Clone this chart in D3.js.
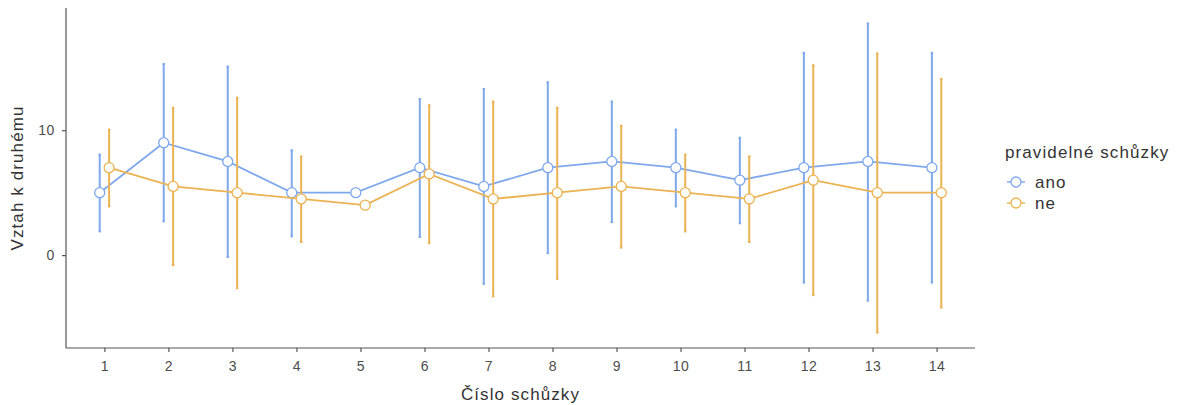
<!DOCTYPE html>
<html>
<head>
<meta charset="utf-8">
<script src="https://cdn.jsdelivr.net/npm/d3@7"></script>
<style>
body { margin: 0; background: #fff; }
text { font-family: "Liberation Sans", Arial, sans-serif; }
</style>
</head>
<body>
<div id="chart"></div>
<script>
let sessions = ["1","2","3","4","5","6","7","8","9","10","11","12","13","14"];
let groups = ["ano", "ne"];
let colors = ["#7fa8ec", "#ebb252"];

// ano (pravidelné schůzky)
let anoMean = [5, 9, 7.5, 5, 5, 7, 5.5, 7, 7.5, 7, 6, 7, 7.5, 7];
let anoLow  = [1.9, 2.7, -0.15, 1.5, null, 1.45, -2.3, 0.15, 2.65, 3.9, 2.55, -2.2, -3.65, -2.2];
let anoHigh = [8.05, 15.3, 15.1, 8.4, null, 12.5, 13.3, 13.85, 12.3, 10.05, 9.4, 16.2, 18.55, 16.2];
// ne
let neMean = [7, 5.5, 5, 4.5, 4, 6.5, 4.5, 5, 5.5, 5, 4.5, 6, 5, 5];
let neLow  = [3.9, -0.8, -2.65, 1.05, null, 0.95, -3.3, -1.9, 0.6, 1.9, 1.05, -3.2, -6.2, -4.2];
let neHigh = [10.05, 11.8, 12.6, 7.9, null, 12.0, 12.3, 11.8, 10.35, 8.05, 7.9, 15.2, 16.15, 14.1];

let yTicks = [0, 10];

let width = 1185, height = 405;
let margin = {left: 66, top: 8, right: 210, bottom: 57};

let series = [
    {name: groups[0], mean: anoMean, low: anoLow, high: anoHigh, color: colors[0], dodge: -1},
    {name: groups[1], mean: neMean, low: neLow, high: neHigh, color: colors[1], dodge: 1}
];

let svg = d3.select("#chart").append("svg")
    .attr("width", width)
    .attr("height", height);

let x = d3.scalePoint()
    .domain(sessions)
    .range([margin.left, width - margin.right])
    .padding(0.6);

let allVals = [].concat(anoLow, anoHigh, neLow, neHigh, anoMean, neMean).filter(v => v != null);
let ext = d3.extent(allVals);
let pad = (ext[1] - ext[0]) * 0.05;
let y = d3.scaleLinear()
    .domain([ext[0] - pad, ext[1] + pad])
    .range([height - margin.bottom, margin.top]);

let dodgeW = 4.7;

// axes
let xAxis = svg.append("g")
    .attr("transform", `translate(0,${height - margin.bottom})`)
    .call(d3.axisBottom(x).tickSize(4).tickPadding(9));
let yAxis = svg.append("g")
    .attr("transform", `translate(${margin.left},0)`)
    .call(d3.axisLeft(y).tickValues(yTicks).tickSize(4).tickPadding(7));

[xAxis, yAxis].forEach(a => {
    a.select(".domain").attr("stroke", "#555").attr("stroke-width", 1.2);
    a.selectAll(".tick line").attr("stroke", "#555").attr("stroke-width", 1.2);
    a.selectAll(".tick text").attr("fill", "#4d4d4d")
        .style("font-size", "14px").style("letter-spacing", "0.6px");
});
// extend domain lines to full plot
xAxis.select(".domain").attr("d", `M${margin.left},0H${width - margin.right}`);
yAxis.select(".domain").attr("d", `M0,${margin.top}V${height - margin.bottom}`);

series.forEach(s => {
    let g = svg.append("g");
    let pts = sessions.map((k, i) => ({k: k, m: s.mean[i], lo: s.low[i], hi: s.high[i]}));
    let px = d => x(d.k) + s.dodge * dodgeW;

    // error bars
    let eb = pts.filter(d => d.lo != null);
    g.selectAll(".eb").data(eb).enter().append("line")
        .attr("x1", px).attr("x2", px)
        .attr("y1", d => y(d.lo)).attr("y2", d => y(d.hi))
        .attr("stroke", s.color).attr("stroke-width", 2);
    ["lo", "hi"].forEach(key => {
        g.selectAll(".cap" + key).data(eb).enter().append("line")
            .attr("x1", d => px(d) - 1.2).attr("x2", d => px(d) + 1.2)
            .attr("y1", d => y(d[key])).attr("y2", d => y(d[key]))
            .attr("stroke", s.color).attr("stroke-width", 2);
    });

    g.append("path")
        .datum(pts)
        .attr("fill", "none")
        .attr("stroke", s.color)
        .attr("stroke-width", 1.8)
        .attr("d", d3.line().x(px).y(d => y(d.m)));

    g.selectAll("circle").data(pts).enter().append("circle")
        .attr("cx", px)
        .attr("cy", d => y(d.m))
        .attr("r", 5)
        .attr("fill", "#fff")
        .attr("stroke", s.color)
        .attr("stroke-width", 1.3);
});

// axis titles
svg.append("text")
    .text("Číslo schůzky")
    .attr("x", (margin.left + width - margin.right) / 2)
    .attr("y", 400)
    .attr("text-anchor", "middle")
    .attr("fill", "#333")
    .style("font-size", "17px").style("letter-spacing", "1.1px");

svg.append("text")
    .text("Vztah k druhému")
    .attr("transform", `translate(23,${(margin.top + height - margin.bottom) / 2}) rotate(-90)`)
    .attr("text-anchor", "middle")
    .attr("fill", "#333")
    .style("font-size", "17px").style("letter-spacing", "1.1px");

// legend
let lg = svg.append("g").attr("transform", "translate(1005,0)");
lg.append("text")
    .text("pravidelné schůzky")
    .attr("x", 0).attr("y", 158)
    .attr("fill", "#333")
    .style("font-size", "17px").style("letter-spacing", "1.1px");

let items = lg.selectAll(".li").data(series).enter().append("g")
    .attr("transform", (d, i) => `translate(0,${182 + i * 21})`);
items.append("line")
    .attr("x1", 2).attr("x2", 20).attr("y1", 0).attr("y2", 0)
    .attr("stroke", d => d.color).attr("stroke-width", 1.5);
items.append("circle")
    .attr("cx", 11).attr("cy", 0).attr("r", 5)
    .attr("fill", "#fff").attr("stroke", d => d.color).attr("stroke-width", 1.3);
items.append("text")
    .text(d => d.name)
    .attr("x", 30).attr("y", 5.5)
    .attr("fill", "#333")
    .style("font-size", "17px").style("letter-spacing", "1.1px");
</script>
</body>
</html>
